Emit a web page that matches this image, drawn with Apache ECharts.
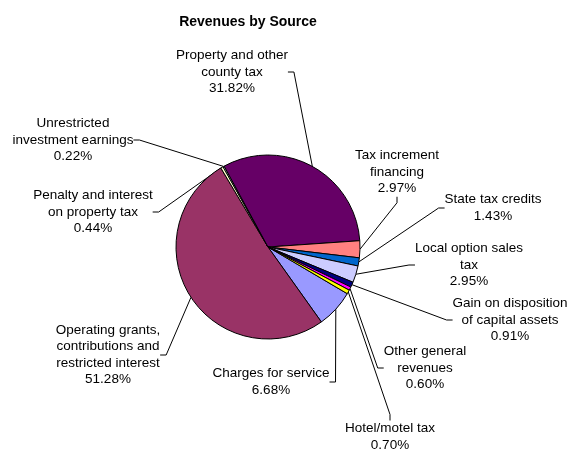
<!DOCTYPE html>
<html>
<head>
<meta charset="utf-8">
<script src="https://cdn.jsdelivr.net/npm/echarts@6/dist/echarts.min.js"></script>
<style>
html,body{margin:0;padding:0;background:#fff;}
#chart{width:573px;height:449px;}
</style>
</head>
<body>
<div id="chart"></div>
<script>
// Data (percent of total revenues)
var categories = [
  'Charges for service',
  'Operating grants,\ncontributions and\nrestricted interest',
  'Penalty and interest\non property tax',
  'Unrestricted\ninvestment earnings',
  'Property and other\ncounty tax',
  'Tax increment\nfinancing',
  'State tax credits',
  'Local option sales\ntax',
  'Gain on disposition\nof capital assets',
  'Other general\nrevenues',
  'Hotel/motel tax'
];
var values = [6.68, 51.28, 0.44, 0.22, 31.82, 2.97, 1.43, 2.95, 0.91, 0.60, 0.70];
var colors = ['#9999FF', '#993366', '#FFFFCC', '#CCFFFF', '#660066', '#FF8080', '#0066CC', '#CCCCFF', '#000080', '#FF00FF', '#FFFF00'];

// label anchor positions (layout)
var labelPos = [
  [271, 382], [108, 355], [93, 212], [73, 140], [232, 72], [397, 172],
  [493, 208], [469, 265], [510, 320], [425, 368], [390, 437]
];

var chart = echarts.init(document.getElementById('chart'), null, {renderer: 'canvas'});
var font = "'Liberation Sans', Arial, sans-serif";
chart.setOption({
  animation: false,
  title: {
    text: 'Revenues by Source',
    left: 243, top: 10, textAlign: 'center',
    textStyle: {fontFamily: font, fontSize: 14, fontWeight: 'bold', color: '#000'}
  },
  series: [{
    type: 'pie',
    center: [268, 247],
    radius: 92,
    startAngle: -30.5,
    clockwise: true,
    data: categories.map(function (c, i) {
      return {name: c, value: values[i], itemStyle: {color: colors[i]}};
    }),
    itemStyle: {borderColor: '#000', borderWidth: 1},
    label: {
      show: true,
      formatter: function (p) { return p.name + '\n' + p.value.toFixed(2) + '%'; },
      fontFamily: font, fontSize: 13.5, color: '#000', lineHeight: 16.5, align: 'center'
    },
    labelLine: {show: true, length: 10, length2: 6, lineStyle: {color: '#000', width: 1}},
    labelLayout: function (params) {
      var p = labelPos[params.dataIndex];
      return {x: p[0], y: p[1], align: 'center', verticalAlign: 'middle'};
    },
    emphasis: {disabled: true}
  }]
});
</script>
</body>
</html>
